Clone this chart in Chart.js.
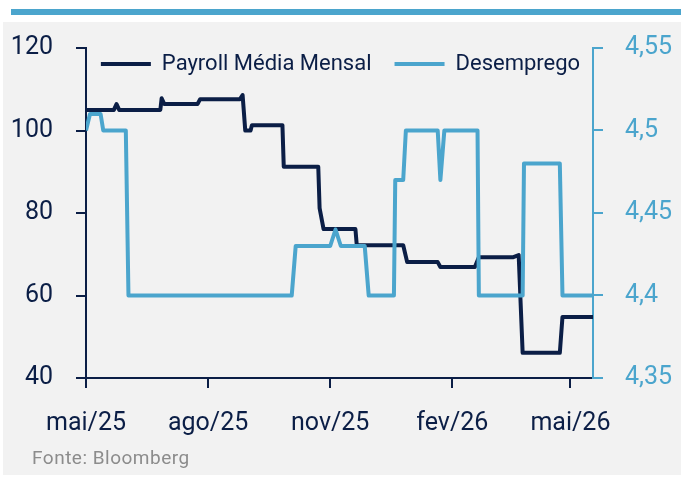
<!DOCTYPE html>
<html>
<head>
<meta charset="utf-8">
<script src="https://cdn.jsdelivr.net/npm/chart.js@4"></script>
<style>
  body { margin: 0; background: #fff; }
  #wrap { position: relative; width: 681px; height: 477px; }
  #bar { position: absolute; left: 11px; top: 9px; width: 670px; height: 6px; background: #4ba5cd; }
  #panel { position: absolute; left: 3px; top: 22px; width: 678px; height: 453px; background: #f2f2f2; }
  #myChart { position: absolute; left: 0; top: 0; }
  #fonte { position: absolute; left: 32px; top: 446px; font: 19px Roboto, sans-serif; letter-spacing: 0.5px; color: #8c8c8c; }
</style>
</head>
<body>
<div id="wrap">
  <div id="bar"></div>
  <div id="panel"></div>
  <canvas id="myChart" width="681" height="477"></canvas>
  <div id="fonte">Fonte: Bloomberg</div>
</div>
<script>
var payrollDates = ['2025-05-01', '2025-05-22', '2025-05-24', '2025-05-26', '2025-06-26', '2025-06-27', '2025-06-29',
    '2025-07-24', '2025-07-26', '2025-08-25', '2025-08-27', '2025-08-29', '2025-09-02', '2025-09-03', '2025-09-26',
    '2025-09-27', '2025-10-23', '2025-10-24', '2025-10-27', '2025-11-20', '2025-11-21', '2025-12-26', '2025-12-29',
    '2026-01-21', '2026-01-23', '2026-02-18', '2026-02-21', '2026-03-19', '2026-03-23', '2026-03-26', '2026-04-23',
    '2026-04-25', '2026-05-18'];
var payrollValues = [105, 105, 106.4, 105, 105, 107.8, 106.4,
    106.4, 107.6, 107.6, 108.6, 100, 100, 101.3, 101.3,
    91.2, 91.2, 81.2, 76.1, 76.1, 72.2, 72.2, 68.1,
    68.1, 66.9, 66.9, 69.3, 69.3, 69.8, 46.1, 46.1,
    54.8, 54.8];

var desempregoDates = ['2025-05-01', '2025-05-04', '2025-05-12', '2025-05-14', '2025-05-31', '2025-06-02', '2025-10-03',
    '2025-10-06', '2025-11-01', '2025-11-05', '2025-11-09', '2025-11-27', '2025-11-30', '2025-12-19', '2025-12-20',
    '2025-12-26', '2025-12-28', '2026-01-21', '2026-01-23', '2026-01-26', '2026-02-20', '2026-02-21', '2026-03-26',
    '2026-03-27', '2026-04-23', '2026-04-25', '2026-05-18'];
var desempregoValues = [4.50, 4.51, 4.51, 4.50, 4.50, 4.40, 4.40,
    4.43, 4.43, 4.44, 4.43, 4.43, 4.40, 4.40, 4.47,
    4.47, 4.50, 4.50, 4.47, 4.50, 4.50, 4.40, 4.40,
    4.48, 4.48, 4.40, 4.40];

var xTickDates = ['2025-05-01', '2025-08-01', '2025-11-01', '2026-02-01', '2026-05-01'];
var xTickLabels = ['mai/25', 'ago/25', 'nov/25', 'fev/26', 'mai/26'];
var yLeftTicks = [40, 60, 80, 100, 120];
var yRightTicks = [4.35, 4.4, 4.45, 4.5, 4.55];

var navy = '#0b1e46';
var blue = '#4ba5cd';

// dias desde o inicio da serie
function dayOf(s) {
    return (Date.parse(s) - Date.parse('2025-05-01')) / 86400000;
}
function toPoints(dates, values) {
    return dates.map(function (d, i) { return { x: dayOf(d), y: values[i] }; });
}

Chart.defaults.font.family = 'Roboto';

// a legenda ocupa 48px no topo, mas e desenhada dentro da area do grafico
var legendShift = {
    id: 'legendShift',
    afterLayout: function (chart) {
        chart.legend.top += 30;
        chart.legend.bottom += 30;
    }
};

const ctx = document.getElementById('myChart').getContext('2d');
const myChart = new Chart(ctx, {
    type: 'line',
    data: {
        datasets: [{
            label: 'Payroll Média Mensal',
            data: toPoints(payrollDates, payrollValues),
            borderColor: navy,
            backgroundColor: navy,
            borderWidth: 4,
            pointRadius: 0,
            borderJoinStyle: 'round',
            yAxisID: 'y',
            order: 1
        }, {
            label: 'Desemprego',
            data: toPoints(desempregoDates, desempregoValues),
            borderColor: blue,
            backgroundColor: blue,
            borderWidth: 4,
            pointRadius: 0,
            borderJoinStyle: 'round',
            yAxisID: 'y1',
            order: 0
        }]
    },
    options: {
        responsive: false,
        maintainAspectRatio: false,
        animation: false,
        layout: { padding: 0 },
        plugins: {
            tooltip: { enabled: false },
            legend: {
                position: 'top',
                align: 'center',
                maxHeight: 48,
                labels: {
                    boxWidth: 50,
                    boxHeight: 4,
                    padding: 23,
                    color: navy,
                    font: { size: 22 },
                    sort: function (a, b) { return a.datasetIndex - b.datasetIndex; },
                    generateLabels: function (chart) {
                        var items = Chart.defaults.plugins.legend.labels.generateLabels(chart);
                        items.forEach(function (it) {
                            it.fillStyle = it.strokeStyle;
                            it.lineWidth = 0;
                        });
                        return items;
                    }
                }
            }
        },
        scales: {
            x: {
                type: 'linear',
                min: 0,
                max: dayOf('2026-05-18'),
                afterBuildTicks: function (scale) {
                    scale.ticks = xTickDates.map(function (d) { return { value: dayOf(d) }; });
                },
                afterFit: function (scale) { scale.height = 99; },
                ticks: {
                    autoSkip: false,
                    maxRotation: 0,
                    padding: 21,
                    color: navy,
                    font: { size: 25 },
                    callback: function (value, index) { return xTickLabels[index]; }
                },
                grid: { drawOnChartArea: false, tickLength: 10, color: navy, lineWidth: 2 },
                border: { color: navy, width: 2 }
            },
            y: {
                position: 'left',
                min: 40,
                max: 120,
                afterBuildTicks: function (scale) {
                    scale.ticks = yLeftTicks.map(function (v) { return { value: v }; });
                },
                afterFit: function (scale) { scale.width = 86; },
                ticks: { padding: 23, color: navy, font: { size: 25 } },
                grid: { drawOnChartArea: false, tickLength: 10, color: navy, lineWidth: 2 },
                border: { color: navy, width: 2 }
            },
            y1: {
                position: 'right',
                min: 4.35,
                max: 4.55,
                afterBuildTicks: function (scale) {
                    scale.ticks = yRightTicks.map(function (v) { return { value: v }; });
                },
                afterFit: function (scale) { scale.width = 88; },
                ticks: {
                    padding: 22,
                    color: blue,
                    font: { size: 25 },
                    callback: function (value) { return String(Math.round(value * 100) / 100).replace('.', ','); }
                },
                grid: { drawOnChartArea: false, tickLength: 10, color: blue, lineWidth: 2 },
                border: { color: blue, width: 2 }
            }
        }
    },
    plugins: [legendShift]
});
</script>
</body>
</html>
